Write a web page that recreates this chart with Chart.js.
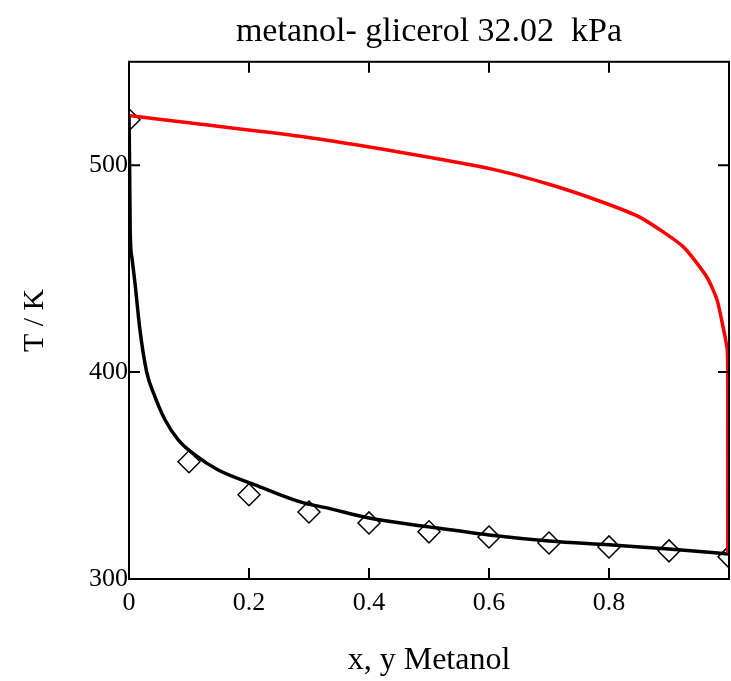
<!DOCTYPE html>
<html lang="es">
<head>
  <meta charset="utf-8">
  <title>metanol- glicerol 32.02 kPa</title>
  <script src="https://cdn.jsdelivr.net/npm/chart.js"></script>
  <style>
    body { margin: 0; background: #fff; }
    #wrap { width: 731px; height: 681px; }
  </style>
</head>
<body>
<div id="wrap"><canvas id="txy"></canvas></div>
<script>
// vapour curve (y, T)
const vapY = [0, 0.1, 0.285, 0.452, 0.607, 0.7, 0.785, 0.852, 0.923, 0.963, 0.98, 0.99, 0.997, 0.998, 0.998];
const vapT = [524, 520.5, 514, 506.3, 498, 490.8, 482.6, 474.8, 460.8, 446, 435, 422, 411, 395, 312.6];
// liquid curve (x, T)
const liqX = [0, 0.001, 0.002, 0.005, 0.01, 0.018, 0.0295, 0.043, 0.06, 0.082, 0.11, 0.148, 0.21, 0.285, 0.335, 0.4, 0.5, 0.6, 0.7, 0.8, 0.9, 1.0];
const liqT = [524, 500, 468, 455, 443, 421, 400, 388.3, 377, 367.3, 360, 352.8, 345.5, 337.3, 334, 329.5, 325.2, 321.3, 318.4, 316.5, 314.5, 312.1];
// experimental points
const expX = [0, 0.1, 0.2, 0.3, 0.4, 0.5, 0.6, 0.7, 0.8, 0.9, 1.0];
const expT = [522, 356.7, 340.7, 332.4, 327.1, 322.8, 320.3, 317.4, 315.5, 313.6, 310.7];

const xTicks = [0, 0.2, 0.4, 0.6, 0.8, 1];
const yTicks = [300, 400, 500];

const pts = (xs, ys) => xs.map((v, i) => ({ x: v, y: ys[i] }));
const serif = "'Liberation Serif', 'DejaVu Serif', serif";

// frame with inward tick marks
const frame = {
  id: 'frame',
  afterDatasetsDraw(chart) {
    const { ctx, chartArea: a, scales: { x, y } } = chart;
    ctx.save();
    ctx.strokeStyle = '#000';
    ctx.lineWidth = 2;
    ctx.strokeRect(a.left, a.top, a.right - a.left, a.bottom - a.top);
    ctx.beginPath();
    xTicks.slice(1, -1).forEach(v => {
      const px = x.getPixelForValue(v);
      ctx.moveTo(px, a.bottom); ctx.lineTo(px, a.bottom - 11);
      ctx.moveTo(px, a.top); ctx.lineTo(px, a.top + 11);
    });
    yTicks.slice(1).forEach(v => {
      const py = y.getPixelForValue(v);
      ctx.moveTo(a.left, py); ctx.lineTo(a.left + 11, py);
      ctx.moveTo(a.right, py); ctx.lineTo(a.right - 11, py);
    });
    ctx.stroke();
    ctx.restore();
  }
};

new Chart(document.getElementById('txy'), {
  type: 'scatter',
  data: {
    datasets: [
      { data: pts(vapY, vapT), showLine: true, borderColor: '#ff0000', borderWidth: 3.5, pointRadius: 0, tension: 0.2 },
      { data: pts(liqX, liqT), showLine: true, borderColor: '#000', borderWidth: 3.5, pointRadius: 0, cubicInterpolationMode: 'monotone' },
      { data: pts(expX, expT), showLine: false, pointStyle: 'rectRot', pointRadius: 11, borderColor: '#000', borderWidth: 1.5, backgroundColor: 'rgba(0,0,0,0)', clip: 0 }
    ]
  },
  options: {
    animation: false,
    responsive: true,
    maintainAspectRatio: false,
    layout: { padding: { right: 2 }, autoPadding: false },
    plugins: {
      legend: { display: false },
      tooltip: { enabled: false },
      title: {
        display: true, fullSize: false,
        text: 'metanol- glicerol 32.02  kPa',
        color: '#000',
        font: { family: serif, size: 34, weight: 'normal' },
        padding: { top: 12, bottom: 9 }
      }
    },
    scales: {
      x: {
        type: 'linear', min: 0, max: 1,
        grid: { display: false, drawTicks: false },
        border: { display: false },
        afterBuildTicks: s => { s.ticks = xTicks.map(v => ({ value: v })); },
        afterFit: s => { s.height = 102; s.paddingLeft = 0; s.paddingRight = 0; },
        ticks: {
          color: '#000', padding: 9,
          font: { family: serif, size: 26 },
          callback: v => (v >= 1 ? '' : String(v))
        },
        title: {
          display: true, text: 'x, y Metanol', color: '#000',
          font: { family: serif, size: 32 }, padding: { bottom: 1 }
        }
      },
      y: {
        type: 'linear', min: 300, max: 550,
        grid: { display: false, drawTicks: false },
        border: { display: false },
        afterBuildTicks: s => { s.ticks = yTicks.map(v => ({ value: v })); },
        afterFit: s => { s.width = 129; s.paddingTop = 0; s.paddingBottom = 0; },
        ticks: {
          color: '#000', padding: 1,
          font: { family: serif, size: 26 }
        },
        title: {
          display: true, text: 'T / K', color: '#000',
          font: { family: serif, size: 30 }, padding: { top: 17 }
        }
      }
    }
  },
  plugins: [frame]
});
</script>
</body>
</html>
